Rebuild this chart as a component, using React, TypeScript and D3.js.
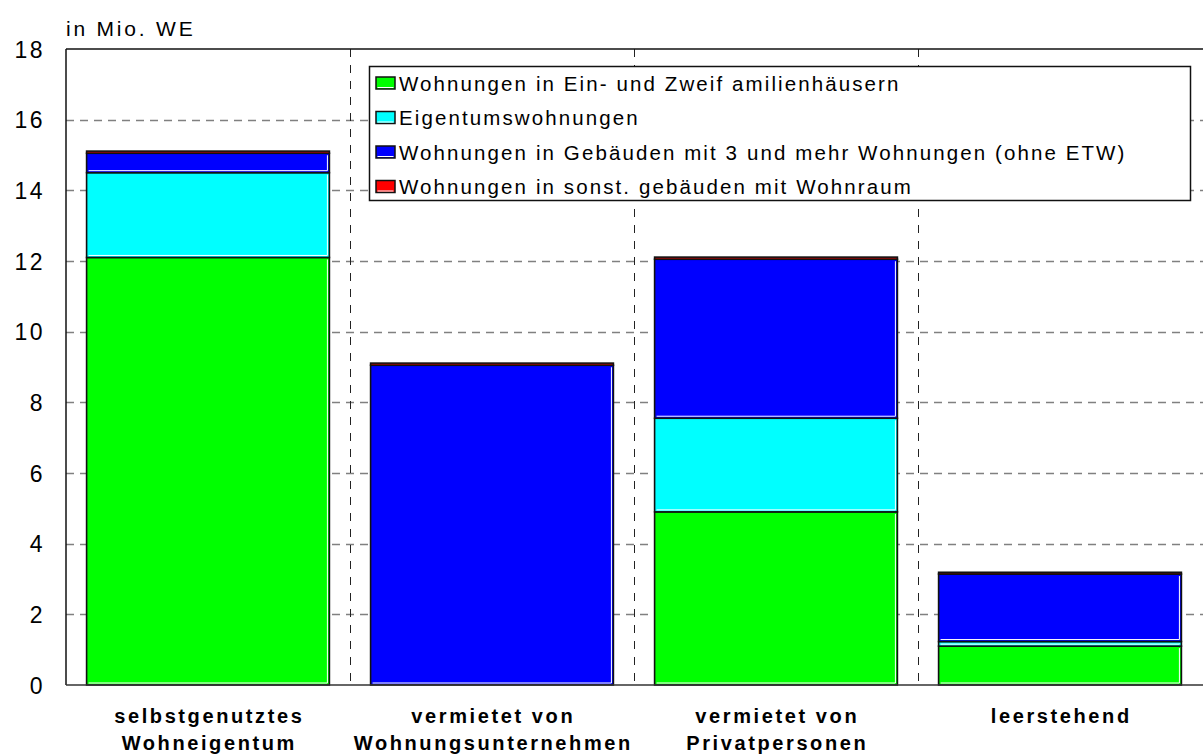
import React from "react";
import * as d3 from "d3";

const categories = [
  ["selbstgenutztes", "Wohneigentum"],
  ["vermietet von", "Wohnungsunternehmen"],
  ["vermietet von", "Privatpersonen"],
  ["leerstehend"],
];
const seriesNames = [
  "Wohnungen in Ein- und Zweif amilienhäusern",
  "Eigentumswohnungen",
  "Wohnungen in Gebäuden mit 3 und mehr Wohnungen (ohne ETW)",
  "Wohnungen in sonst. gebäuden mit Wohnraum",
];
const colors = ["#00ff00", "#00ffff", "#0000ff", "#ff0000"];
// values in Mio. WE per category
const ezfh = [12.1, 0, 4.9, 1.1];
const etw = [2.4, 0, 2.65, 0.13];
const mfh = [0.55, 9.05, 4.5, 1.91];
const sonst = [0.06, 0.06, 0.06, 0.05];
const yTicks = [0, 2, 4, 6, 8, 10, 12, 14, 16, 18];

const W = 1203;
const H = 755;
const m = { left: 66, top: 49, right: 1203, bottom: 685 };
const font = "Arial, 'Liberation Sans', sans-serif";

export default function App() {
  const keys = ["a", "b", "c", "d"];
  const rows = categories.map((c, i) => ({
    i,
    a: ezfh[i],
    b: etw[i],
    c: mfh[i],
    d: sonst[i],
  }));
  const stack = d3.stack<any>().keys(keys)(rows);

  const x = d3
    .scaleBand<number>()
    .domain(categories.map((_, i) => i))
    .range([m.left, m.left + 4 * 284])
    .paddingInner(0.145)
    .paddingOuter(0.0725);
  const y = d3.scaleLinear().domain([0, 18]).range([m.bottom, m.top]);

  const bounds = [1, 2, 3].map((i) => m.left + i * 284);

  return (
    <svg width={W} height={H} style={{ position: "absolute", left: 0, top: 0 }}>
      <rect width={W} height={H} fill="white" />
      {/* horizontal grid */}
      {yTicks.slice(1, -1).map((t) => (
        <line
          key={t}
          x1={m.left}
          x2={m.right}
          y1={Math.round(y(t)) + 0.5}
          y2={Math.round(y(t)) + 0.5}
          stroke="#808080"
          strokeWidth={1.5}
          strokeDasharray="8,6"
        />
      ))}
      {/* vertical grid */}
      {bounds.map((b) => (
        <line
          key={b}
          x1={b + 0.5}
          x2={b + 0.5}
          y1={m.top}
          y2={m.bottom}
          stroke="#222"
          strokeWidth={1}
          strokeDasharray="8,8"
        />
      ))}
      {/* bars */}
      {stack.map((s, si) =>
        s.map((d, ci) => {
          if (d[1] - d[0] <= 0) return null;
          const x0 = x(ci)!;
          const bw = x.bandwidth();
          const yt = y(d[1]);
          const yb = y(d[0]);
          return (
            <g key={si + "-" + ci}>
              <rect
                x={x0}
                y={yt}
                width={bw}
                height={yb - yt}
                fill={colors[si]}
                stroke="#111"
                strokeWidth={1.6}
              />
              {yb - yt > 4 && (
                <polyline
                  points={`${x0 + 2},${yb - 2} ${x0 + bw - 2},${yb - 2} ${x0 + bw - 2},${yt + 2}`}
                  fill="none"
                  stroke="white"
                  strokeWidth={1}
                />
              )}
            </g>
          );
        })
      )}
      {/* axis frame */}
      <line x1={m.left} x2={m.right} y1={m.top} y2={m.top} stroke="#111" strokeWidth={1.5} />
      <line x1={m.left} x2={m.left} y1={m.top} y2={m.bottom} stroke="#111" strokeWidth={1.5} />
      <line x1={m.left} x2={m.right} y1={m.bottom} y2={m.bottom} stroke="#333" strokeWidth={1.5} />
      {/* y labels */}
      {yTicks.map((t) => (
        <text
          key={t}
          x={45}
          y={y(t) + 8.5}
          textAnchor="end"
          fontFamily={font}
          fontSize={23}
          letterSpacing={2.5}
          fill="#000"
        >
          {t}
        </text>
      ))}
      <text x={66} y={36} fontFamily={font} fontSize={21} letterSpacing={2.8} fill="#000">
        in Mio. WE
      </text>
      {/* x labels */}
      {categories.map((c, i) => (
        <text
          key={i}
          textAnchor="middle"
          fontFamily={font}
          fontSize={20}
          fontWeight="bold"
          letterSpacing={2.6}
          fill="#000"
        >
          {c.map((line, li) => (
            <tspan key={li} x={x(i)! + x.bandwidth() / 2 + 1.3} y={723 + li * 27}>
              {line}
            </tspan>
          ))}
        </text>
      ))}
      {/* legend */}
      <g>
        <rect x={369.5} y={66.5} width={821} height={134} fill="white" stroke="#111" strokeWidth={1.5} />
        {seriesNames.map((n, i) => (
          <g key={i} transform={`translate(376, ${77 + i * 34.5})`}>
            <rect x={0} y={0} width={19} height={12} fill={colors[i]} stroke="#111" strokeWidth={1.5} />
            <line x1={1.5} x2={17.5} y1={10.5} y2={10.5} stroke="white" strokeWidth={1} />
            <text x={23} y={13.5} fontFamily={font} fontSize={20.5} letterSpacing={2.1} fill="#000">
              {n}
            </text>
          </g>
        ))}
      </g>
    </svg>
  );
}
